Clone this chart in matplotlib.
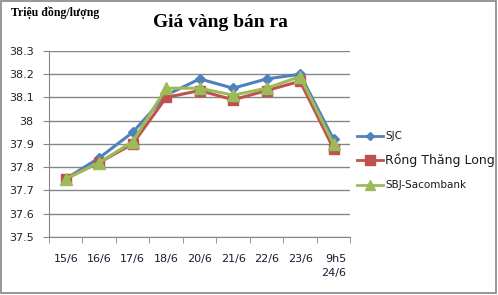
import matplotlib.pyplot as plt
from matplotlib.patches import Rectangle
from matplotlib.lines import Line2D

ngay = ["15/6", "16/6", "17/6", "18/6", "20/6", "21/6", "22/6", "23/6", "9h5\n24/6"]
sjc = [37.75, 37.84, 37.95, 38.11, 38.18, 38.14, 38.18, 38.20, 37.92]
rong_thang_long = [37.75, 37.82, 37.90, 38.10, 38.13, 38.09, 38.13, 38.17, 37.88]
sbj_sacombank = [37.75, 37.82, 37.91, 38.14, 38.14, 38.11, 38.14, 38.19, 37.90]
y_ticks = [37.5, 37.6, 37.7, 37.8, 37.9, 38.0, 38.1, 38.2, 38.3]
y_labels = ["37.5", "37.6", "37.7", "37.8", "37.9", "38", "38.1", "38.2", "38.3"]

fig = plt.figure(figsize=(4.98, 2.95), dpi=100)
ax = fig.add_axes([0.0984, 0.197, 0.605, 0.630])

x = list(range(len(ngay)))
l1, = ax.plot(x, sjc, color="#4F81BD", lw=2.2, marker="D", ms=5.5, zorder=3)
l2, = ax.plot(x, rong_thang_long, color="#C0504D", lw=2.2, marker="s", ms=7, zorder=4)
l3, = ax.plot(x, sbj_sacombank, color="#9BBB59", lw=2.2, marker="^", ms=8, zorder=5)

ax.set_xlim(-0.5, len(ngay) - 0.5)
ax.set_ylim(37.5, 38.3)
ax.set_yticks(y_ticks)
ax.set_yticklabels(y_labels, fontsize=8, color="#222222")
ax.set_xticks(x)
ax.set_xticklabels(ngay, fontsize=8, color="#1a1a33", linespacing=1.5)
ax.set_xticks([i - 0.5 for i in range(len(ngay) + 1)], minor=True)
ax.tick_params(axis="x", which="major", length=0, pad=12)
ax.tick_params(axis="x", which="minor", length=4, color="#868686", direction="out")
ax.tick_params(axis="y", length=4, color="#868686", pad=7)
ax.grid(axis="y", color="#868686", lw=1)
ax.set_axisbelow(True)
for s in ["top", "right"]:
    ax.spines[s].set_visible(False)
ax.spines["left"].set_color("#868686")
ax.spines["bottom"].set_color("#868686")
for lab in ax.get_xticklabels():
    lab.set_verticalalignment("top")
    lab.set_multialignment("right")

fig.text(0.022, 0.958, "Triệu đồng/lượng", family="Liberation Serif", weight="bold",
         fontsize=8.5, va="center")
fig.text(0.442, 0.925, "Giá vàng bán ra", family="Liberation Serif", weight="bold",
         fontsize=14, ha="center", va="center")

# chú giải
ax_leg = fig.add_axes([0, 0, 1, 1], facecolor="none")
ax_leg.set_xlim(0, 498)
ax_leg.set_ylim(295, 0)
ax_leg.axis("off")
entries = [("SJC", "#4F81BD", "D", 4.5, 7.5, 136),
           ("Rồng Thăng Long", "#C0504D", "s", 6.5, 9, 160),
           ("SBJ-Sacombank", "#9BBB59", "^", 6.5, 7.5, 185)]
for txt, col, mk, ms, fs, yy in entries:
    ax_leg.add_line(Line2D([357, 383], [yy, yy], color=col, lw=2))
    ax_leg.plot([370], [yy], marker=mk, color=col, ms=ms)
    ax_leg.text(385, yy, txt, fontsize=fs, va="center", color="#1a1a1a")

fig.patches.append(Rectangle((0.002, 0.006), 0.994, 0.99, transform=fig.transFigure,
                             fill=False, edgecolor="#868686", lw=1.2))

fig.savefig("out.png", dpi=100)
